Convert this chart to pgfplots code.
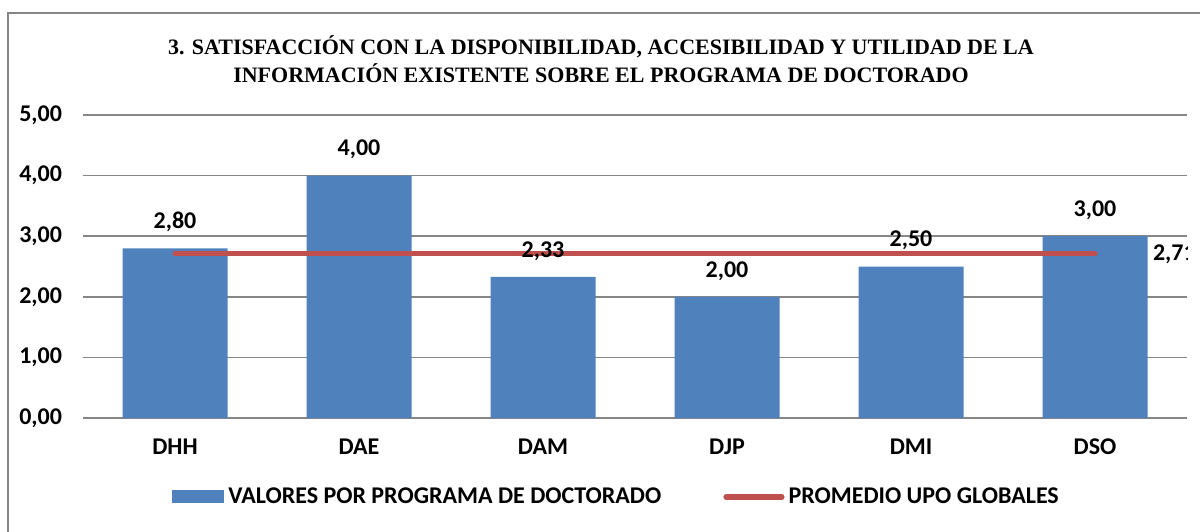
\documentclass[border=0pt]{standalone}
\usepackage{fontspec}
\setmainfont{Carlito}
\newfontfamily\titlefont{Liberation Serif}
\usepackage{pgfplots}
\pgfplotsset{compat=1.18}
\definecolor{barblue}{HTML}{4F81BD}
\definecolor{avgred}{HTML}{C0504D}
\definecolor{gridgray}{HTML}{868686}

\begin{document}
\begin{tikzpicture}
\useasboundingbox (0,0) rectangle (600pt,265.5pt);
% outer chart frame (right and bottom edges fall outside the page)
\draw[gridgray, line width=0.75pt] (4pt,-5pt) -- (4pt,259pt) -- (605pt,259pt);
\node[font=\titlefont\bfseries\fontsize{11}{14}\selectfont, align=center]
    at (300.5pt,236pt)
    {3. SATISFACCIÓN CON LA DISPONIBILIDAD, ACCESIBILIDAD Y UTILIDAD DE LA\\
     INFORMACIÓN EXISTENTE SOBRE EL PROGRAMA DE DOCTORADO};
\begin{axis}[
    at={(41.5pt,56.5pt)}, anchor=south west,
    scale only axis,
    width=552pt, height=151.5pt,
    xmin=-0.5, xmax=5.5,
    ymin=0, ymax=5,
    xtick={0,1,2,3,4,5},
    xticklabels={DHH,DAE,DAM,DJP,DMI,DSO},
    ytick={0,1,2,3,4,5},
    ymajorgrids,
    grid style={line width=0.75pt, draw=gridgray},
    axis line style={draw=none},
    major tick length=0pt,
    tick label style={font=\bfseries\fontsize{12}{14}\selectfont},
    xticklabel style={yshift=-7pt},
    yticklabel style={xshift=-7pt,
        /pgf/number format/.cd, fixed, fixed zerofill, precision=2, use comma, assume math mode=true},
    legend style={
        at={(0.0806,-0.2607)}, anchor=west,
        draw=none, fill=none, inner sep=0pt,
        font=\bfseries\fontsize{12}{14}\selectfont,
        legend columns=2,
        /tikz/every even column/.append style={column sep=29pt},
        cells={anchor=west},
    },
]
\addplot[ybar, bar width=52.5pt, fill=barblue, draw=none,
    nodes near coords,
    nodes near coords style={anchor=center, yshift=13pt, black,
        font=\bfseries\fontsize{12}{14}\selectfont,
        /pgf/number format/.cd, fixed, fixed zerofill, precision=2, use comma, assume math mode=true},
    legend image code/.code={\fill[barblue] (0pt,-3.25pt) rectangle (26pt,3.25pt);}]
    coordinates {(0,2.80) (1,4.00) (2,2.33) (3,2.00) (4,2.50) (5,3.00)};
\addlegendentry{VALORES POR PROGRAMA DE DOCTORADO}
\addplot[avgred, line width=2.6pt, line cap=round, mark=none,
    legend image code/.code={\draw[avgred, line width=2.6pt, line cap=round] (1.3pt,0pt) -- (26.7pt,0pt);
        \path (0pt,0pt) -- (28pt,0pt);}]
    coordinates {(0,2.71) (1,2.71) (2,2.71) (3,2.71) (4,2.71) (5,2.71)};
\addlegendentry{PROMEDIO UPO GLOBALES}
\node[anchor=west, font=\bfseries\fontsize{12}{14}\selectfont, xshift=25.5pt]
    at (axis cs:5,2.71) {2,71};
\end{axis}
\end{tikzpicture}
\end{document}
